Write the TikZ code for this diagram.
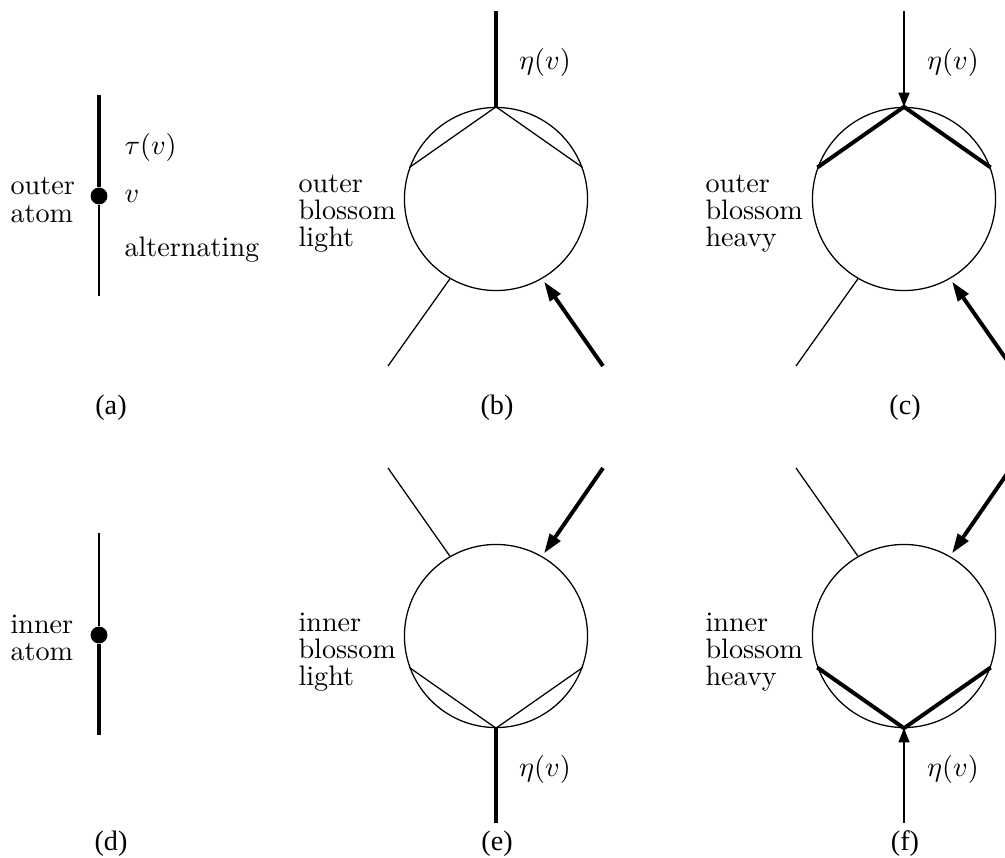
\documentclass[tikz,border=0pt]{standalone}
\usepackage{fontspec}
\newfontfamily\capfont{Liberation Serif}
\usetikzlibrary{arrows.meta}

\begin{document}
\begin{tikzpicture}[
      x=0.355pt,y=-0.355pt,
      lightedge/.style={line width=0.45pt},
      heavyedge/.style={line width=1.4pt},
      lightarrow/.style={lightedge,-{Triangle[length=5pt,width=3.9pt]}},
      heavyarrow/.style={heavyedge,-{Triangle[length=7pt,width=4.4pt]}},
      blossom/.style={circle,draw,line width=0.45pt,minimum size=65pt,inner sep=0pt},
      atom/.style={circle,fill,minimum size=6pt,inner sep=0pt},
      lbl/.style={font=\fontsize{10}{9.6}\selectfont,align=left,inner sep=0pt},
      panelcap/.style={font=\capfont\fontsize{10}{12}\selectfont,inner sep=0pt}
    ]
    \useasboundingbox (0,0) rectangle (1005,858);
    \clip (0,0) rectangle (1005,858);
    % atoms
    \coordinate (a-top) at (99,95);
    \node [atom] (a-v) at (99,196) {};
    \coordinate (a-bot) at (99,296);
    \draw [heavyedge] (a-top) -- (a-v);
    \draw [lightedge] (a-v) -- (a-bot);
    \node [lbl,anchor=west] (a-kind) at (10,200) {outer\\atom};
    \node [lbl,anchor=west] (a-tau) at (124,147) {$\tau(v)$};
    \node [lbl,anchor=west] (a-vl) at (124,196) {$v$};
    \node [lbl,anchor=west] (a-alt) at (124,250) {alternating};
    \coordinate (d-top) at (99,533);
    \node [atom] (d-v) at (99,635) {};
    \coordinate (d-bot) at (99,735);
    \draw [lightedge] (d-top) -- (d-v);
    \draw [heavyedge] (d-v) -- (d-bot);
    \node [lbl,anchor=west] (d-kind) at (10,638) {inner\\atom};
    % blossoms
    \foreach \n/\x/\y in {b/496/199,c/904/199,e/496/636,f/904/636}
      \node [blossom] (\n) at (\x,\y) {};
    \coordinate (b-stem) at (496,11);
    \draw [heavyedge] (b-stem) -- (b.90);
    \draw [lightedge] (b.160) -- (b.90) -- (b.20);
    \coordinate (c-stem) at (904,11);
    \draw [lightarrow] (c-stem) -- (c.90);
    \draw [heavyedge] (c.160) -- (c.90) -- (c.20);
    \coordinate (e-stem) at (496,823);
    \draw [heavyedge] (e-stem) -- (e.270);
    \draw [lightedge] (e.200) -- (e.270) -- (e.340);
    \coordinate (f-stem) at (904,823);
    \draw [lightarrow] (f-stem) -- (f.270);
    \draw [heavyedge] (f.200) -- (f.270) -- (f.340);
    \foreach \n/\x in {b/0,c/408} {
      \coordinate (\n-sw) at (388+\x,366);
      \coordinate (\n-se) at (603+\x,366);
      \draw [lightedge] (\n.240) -- (\n-sw);
      \draw [heavyarrow,shorten >=1.2pt] (\n-se) -- (\n.300);
    }
    \foreach \n/\x in {e/0,f/408} {
      \coordinate (\n-nw) at (388+\x,468);
      \coordinate (\n-ne) at (603+\x,468);
      \draw [lightedge] (\n.120) -- (\n-nw);
      \draw [heavyarrow,shorten >=1.2pt] (\n-ne) -- (\n.60);
    }
    \node [lbl] (b-eta) at (545,62) {$\eta(v)$};
    \node [lbl] (c-eta) at (953,62) {$\eta(v)$};
    \node [lbl] (e-eta) at (545,769) {$\eta(v)$};
    \node [lbl] (f-eta) at (953,769) {$\eta(v)$};
    \node [lbl,anchor=west] (b-kind) at (298,214) {outer\\blossom\\light};
    \node [lbl,anchor=west] (c-kind) at (705,214) {outer\\blossom\\heavy};
    \node [lbl,anchor=west] (e-kind) at (298,652) {inner\\blossom\\light};
    \node [lbl,anchor=west] (f-kind) at (705,652) {inner\\blossom\\heavy};
    % captions
    \node [panelcap] (a-cap) at (111,408) {(a)};
    \node [panelcap] (b-cap) at (497,408) {(b)};
    \node [panelcap] (c-cap) at (905,408) {(c)};
    \node [panelcap] (d-cap) at (111,844) {(d)};
    \node [panelcap] (e-cap) at (497,844) {(e)};
    \node [panelcap] (f-cap) at (905,844) {(f)};
  \end{tikzpicture}
\end{document}
